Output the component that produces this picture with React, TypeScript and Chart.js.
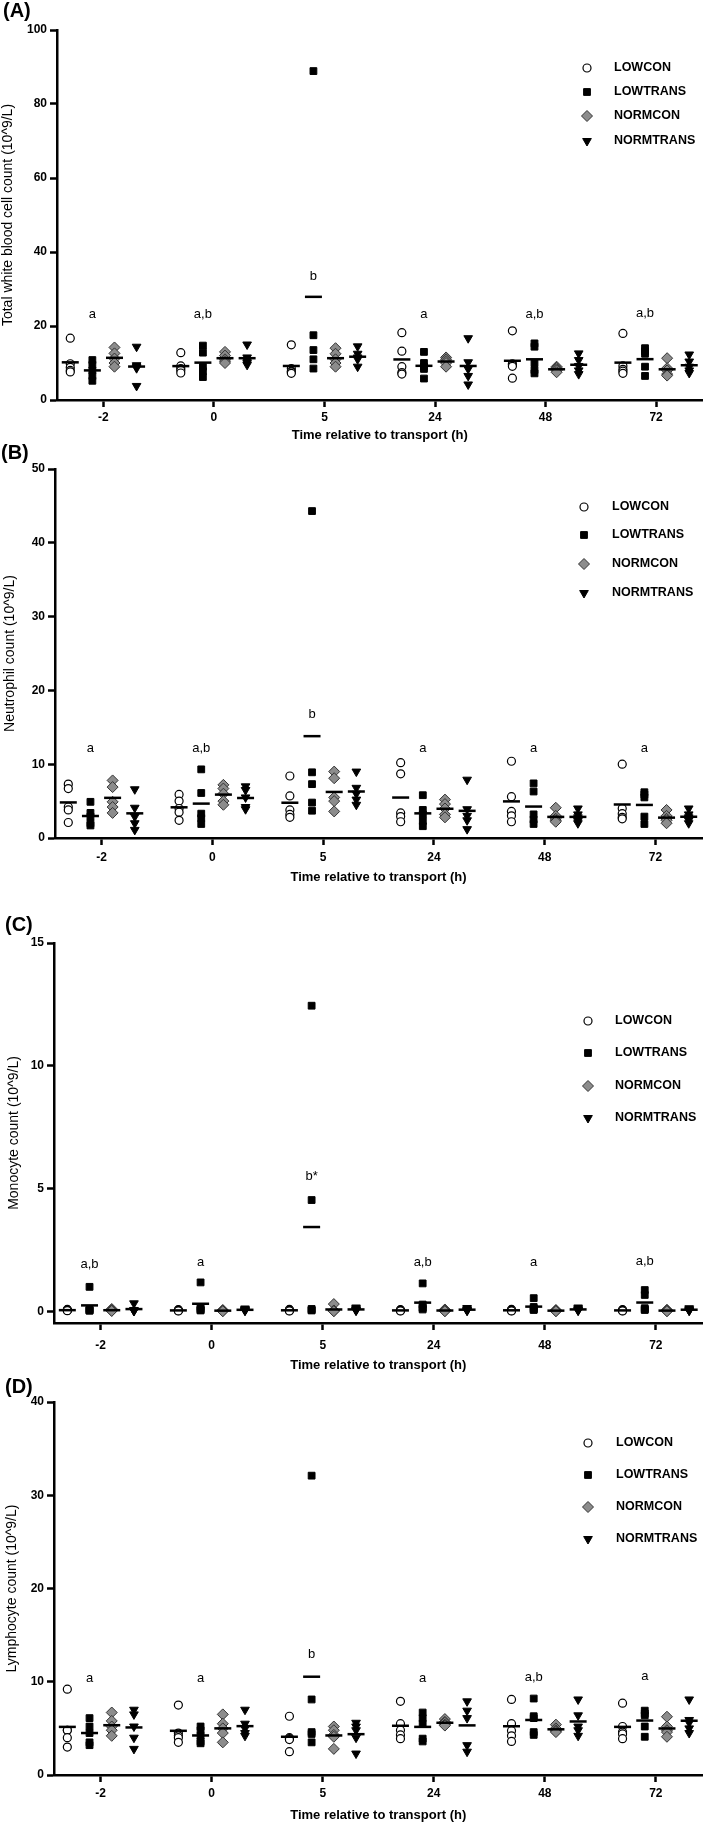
import React, { useEffect, useRef } from 'react';
import { Chart, registerables } from 'chart.js';

Chart.register(...registerables);

// ---------- categories / labels ----------
const timeLabels = ['-2', '0', '5', '24', '48', '72'];
const groupNames = ['LOWCON', 'LOWTRANS', 'NORMCON', 'NORMTRANS'];
const xTitle = 'Time relative to transport (h)';

// ---------- (A) total white blood cell count, 5 animals per time point ----------
const wbcLowcon = [
  [16.7, 9.8, 8.8, 8.0, 7.6], [12.8, 9.2, 8.5, 8.0, 7.3], [14.9, 8.5, 7.8, 7.6, 7.2],
  [18.2, 13.2, 9.0, 7.4, 7.0], [18.7, 9.8, 9.5, 9.1, 5.9], [18.0, 9.2, 8.3, 7.8, 7.2],
];
const wbcLowtrans = [
  [10.8, 9.5, 8.0, 6.5, 5.2], [14.7, 12.8, 9.0, 7.8, 6.2], [88.9, 17.5, 13.5, 11.0, 8.5],
  [13.0, 10.0, 9.0, 8.4, 5.8], [15.3, 14.4, 10.0, 8.1, 7.2], [14.0, 13.2, 12.5, 9.0, 6.5],
];
const wbcNormcon = [
  [14.2, 12.6, 11.2, 10.0, 9.0], [13.0, 12.0, 11.0, 10.5, 10.0], [14.0, 12.5, 11.0, 10.0, 9.0],
  [11.5, 11.0, 10.5, 10.0, 9.0], [9.0, 8.7, 8.3, 8.0, 7.5], [11.3, 8.6, 8.0, 7.0, 6.6],
];
const wbcNormtrans = [
  [14.4, 9.4, 9.0, 8.6, 3.8], [15.0, 11.5, 10.5, 10.0, 9.5], [14.5, 12.5, 11.5, 11.0, 9.0],
  [16.7, 10.2, 8.4, 6.5, 4.2], [12.6, 10.8, 9.2, 8.0, 7.0], [12.3, 10.4, 9.0, 8.0, 7.3],
];
const wbcLetters = ['a', 'a,b', 'b', 'a', 'a,b', 'a,b'];
const wbcLetterY = [23, 23, 33.5, 23, 23, 23.3];
const wbcYTicks = [0, 20, 40, 60, 80, 100];

// ---------- (B) neutrophil count ----------
const neuLowcon = [
  [7.3, 6.7, 4.2, 3.8, 2.1], [5.9, 5.0, 4.0, 3.5, 2.4], [8.4, 5.7, 3.8, 3.2, 2.8],
  [10.2, 8.7, 3.4, 2.9, 2.2], [10.4, 5.6, 3.6, 3.0, 2.2], [10.0, 4.0, 3.3, 2.8, 2.6],
];
const neuLowtrans = [
  [4.9, 3.4, 2.9, 2.0, 1.7], [9.3, 6.1, 3.3, 2.7, 1.9], [44.3, 8.9, 7.3, 4.8, 3.7],
  [5.8, 3.8, 3.2, 2.3, 1.6], [7.4, 6.3, 3.2, 2.5, 1.9], [6.2, 5.9, 5.5, 2.9, 1.9],
];
const neuNormcon = [
  [7.8, 6.9, 4.9, 4.2, 3.4], [7.2, 6.7, 6.0, 5.0, 4.5], [9.0, 8.1, 5.5, 5.0, 3.6],
  [5.2, 4.6, 4.0, 3.2, 2.8], [4.1, 3.0, 2.6, 2.4, 2.2], [3.8, 3.0, 2.6, 2.4, 2.0],
];
const neuNormtrans = [
  [6.6, 4.1, 2.9, 2.0, 1.1], [7.0, 6.5, 5.5, 4.2, 3.9], [9.0, 6.8, 6.0, 5.2, 4.5],
  [7.9, 3.9, 3.0, 2.4, 1.2], [4.0, 3.2, 2.8, 2.3, 2.0], [4.0, 3.2, 2.8, 2.4, 2.0],
];
const neuLetters = ['a', 'a,b', 'b', 'a', 'a', 'a'];
const neuLetterY = [12.2, 12.2, 16.7, 12.2, 12.2, 12.2];
const neuYTicks = [0, 10, 20, 30, 40, 50];

// ---------- (C) monocyte count ----------
const monLowcon = [
  [0.10, 0.08, 0.07, 0.06, 0.05], [0.09, 0.07, 0.06, 0.05, 0.04], [0.10, 0.08, 0.06, 0.05, 0.04],
  [0.09, 0.07, 0.06, 0.05, 0.04], [0.10, 0.08, 0.06, 0.05, 0.04], [0.09, 0.07, 0.06, 0.05, 0.04],
];
const monLowtrans = [
  [1.02, 0.12, 0.08, 0.06, 0.05], [1.20, 0.20, 0.12, 0.08, 0.06], [12.45, 4.55, 0.12, 0.08, 0.06],
  [1.16, 0.30, 0.18, 0.15, 0.10], [0.56, 0.20, 0.14, 0.10, 0.08], [0.89, 0.69, 0.15, 0.10, 0.08],
];
const monNormcon = [
  [0.12, 0.08, 0.06, 0.05, 0.04], [0.08, 0.06, 0.05, 0.04, 0.03], [0.32, 0.06, 0.05, 0.04, 0.03],
  [0.10, 0.07, 0.05, 0.04, 0.03], [0.08, 0.06, 0.05, 0.04, 0.03], [0.09, 0.06, 0.05, 0.04, 0.03],
];
const monNormtrans = [
  [0.35, 0.08, 0.06, 0.05, 0.04], [0.14, 0.10, 0.08, 0.06, 0.05], [0.18, 0.12, 0.09, 0.07, 0.05],
  [0.16, 0.11, 0.08, 0.06, 0.05], [0.18, 0.12, 0.09, 0.07, 0.05], [0.15, 0.11, 0.08, 0.06, 0.05],
];
const monLetters = ['a,b', 'a', 'b*', 'a,b', 'a', 'a,b'];
const monLetterY = [1.95, 2.0, 5.5, 2.0, 2.0, 2.05];
const monYTicks = [0, 5, 10, 15];

// ---------- (D) lymphocyte count ----------
const lymLowcon = [
  [9.2, 4.8, 4.8, 4.0, 3.0], [7.5, 4.5, 4.2, 4.0, 3.5], [6.3, 4.0, 3.9, 3.8, 2.5],
  [7.9, 5.5, 4.8, 4.3, 3.9], [8.1, 5.5, 4.75, 4.2, 3.6], [7.7, 5.2, 4.6, 4.4, 3.9],
];
const lymLowtrans = [
  [6.1, 5.2, 4.5, 3.5, 3.2], [5.2, 4.8, 4.2, 3.6, 3.4], [32.1, 8.1, 4.6, 4.4, 3.5],
  [6.7, 6.1, 5.5, 3.9, 3.6], [8.2, 6.3, 6.1, 4.6, 4.3], [6.9, 6.6, 6.4, 5.2, 4.1],
];
const lymNormcon = [
  [6.7, 5.8, 5.2, 4.8, 4.2], [6.5, 5.5, 5.0, 4.5, 3.5], [5.2, 4.8, 4.3, 4.1, 2.8],
  [6.0, 5.7, 5.6, 5.4, 5.3], [5.4, 5.0, 4.8, 4.7, 4.6], [6.25, 5.2, 4.8, 4.6, 4.1],
];
const lymNormtrans = [
  [7.0, 6.5, 5.2, 4.0, 2.8], [7.0, 5.5, 5.0, 4.5, 4.2], [5.6, 5.2, 4.8, 4.0, 2.3],
  [7.9, 6.9, 6.1, 3.2, 2.5], [8.1, 6.4, 5.2, 4.8, 4.2], [8.1, 5.9, 5.6, 5.0, 4.5],
];
const lymLetters = ['a', 'a', 'b', 'a', 'a,b', 'a'];
const lymLetterY = [10.4, 10.4, 12.9, 10.4, 10.5, 10.6];
const lymYTicks = [0, 10, 20, 30, 40];

// ---------- styling / layout ----------
const FONT = '"Liberation Sans", Arial, Helvetica, sans-serif';
const seriesOffsets = [-0.3, -0.1, 0.1, 0.3];
const seriesStyles = [
  { pointStyle: 'circle', radius: 4, bg: '#ffffff', border: '#000000', bw: 1.2, rotation: 0 },
  { pointStyle: 'rect', radius: 4.8, bg: '#000000', border: '#000000', bw: 1, rotation: 0 },
  { pointStyle: 'rectRot', radius: 5.5, bg: '#8c8c8c', border: '#333333', bw: 1, rotation: 0 },
  { pointStyle: 'triangle', radius: 5, bg: '#000000', border: '#000000', bw: 1, rotation: 180 },
];

type PanelDef = {
  key: string;
  label: string;
  yTitle: string;
  series: number[][][];
  letters: string[];
  letterY: number[];
  yTicks: number[];
  yMin: number;
  yMax: number;
  lay: {
    top: number; height: number; plotLeft: number; plotRight: number; plotTop: number; plotBottom: number;
    labelX: number; labelY: number; yTitleX: number; tickPad: number; titleY: number;
    legMarkX: number; legTextX: number; legRows: number[];
  };
};

const panels: PanelDef[] = [
  {
    key: 'A', label: '(A)', yTitle: 'Total white blood cell count (10^9/L)',
    series: [wbcLowcon, wbcLowtrans, wbcNormcon, wbcNormtrans],
    letters: wbcLetters, letterY: wbcLetterY, yTicks: wbcYTicks, yMin: 0, yMax: 100,
    lay: { top: 0, height: 444, plotLeft: 57, plotRight: 706, plotTop: 30, plotBottom: 400,
      labelX: 3, labelY: 11, yTitleX: 8.5, tickPad: 3.5, titleY: 435,
      legMarkX: 587, legTextX: 614, legRows: [68, 92, 116, 141] },
  },
  {
    key: 'B', label: '(B)', yTitle: 'Neutrophil count (10^9/L)',
    series: [neuLowcon, neuLowtrans, neuNormcon, neuNormtrans],
    letters: neuLetters, letterY: neuLetterY, yTicks: neuYTicks, yMin: 0, yMax: 50,
    lay: { top: 442, height: 444, plotLeft: 55, plotRight: 702, plotTop: 469, plotBottom: 838,
      labelX: 1, labelY: 453, yTitleX: 10, tickPad: 5.5, titleY: 877,
      legMarkX: 584, legTextX: 612, legRows: [507, 535, 564, 593] },
  },
  {
    key: 'C', label: '(C)', yTitle: 'Monocyte count (10^9/L)',
    series: [monLowcon, monLowtrans, monNormcon, monNormtrans],
    letters: monLetters, letterY: monLetterY, yTicks: monYTicks, yMin: -0.45, yMax: 15,
    lay: { top: 914, height: 460, plotLeft: 54, plotRight: 705, plotTop: 943, plotBottom: 1323,
      labelX: 5, labelY: 925, yTitleX: 14, tickPad: 8, titleY: 1365,
      legMarkX: 588, legTextX: 615, legRows: [1021, 1053, 1086, 1118] },
  },
  {
    key: 'D', label: '(D)', yTitle: 'Lymphocyte count (10^9/L)',
    series: [lymLowcon, lymLowtrans, lymNormcon, lymNormtrans],
    letters: lymLetters, letterY: lymLetterY, yTicks: lymYTicks, yMin: 0, yMax: 40,
    lay: { top: 1376, height: 446, plotLeft: 54, plotRight: 707, plotTop: 1402, plotBottom: 1775,
      labelX: 5, labelY: 1387, yTitleX: 12, tickPad: 4.5, titleY: 1815,
      legMarkX: 588, legTextX: 616, legRows: [1443, 1475, 1507, 1539] },
  },
];

function drawMarker(ctx: CanvasRenderingContext2D, s: number, cx: number, cy: number) {
  const st = seriesStyles[s];
  const r = st.radius;
  ctx.beginPath();
  if (st.pointStyle === 'circle') {
    ctx.arc(cx, cy, r, 0, Math.PI * 2);
  } else if (st.pointStyle === 'rect') {
    const h = r * Math.SQRT1_2;
    ctx.rect(cx - h, cy - h, 2 * h, 2 * h);
  } else if (st.pointStyle === 'rectRot') {
    ctx.moveTo(cx - r, cy);
    ctx.lineTo(cx, cy - r);
    ctx.lineTo(cx + r, cy);
    ctx.lineTo(cx, cy + r);
    ctx.closePath();
  } else {
    const w = r * Math.sin(Math.PI / 3);
    ctx.moveTo(cx, cy + r);
    ctx.lineTo(cx - w, cy - r / 2);
    ctx.lineTo(cx + w, cy - r / 2);
    ctx.closePath();
  }
  ctx.fillStyle = st.bg;
  ctx.fill();
  ctx.lineWidth = st.bw;
  ctx.strokeStyle = st.border;
  ctx.stroke();
}

function makeOverlay(p: PanelDef) {
  return {
    id: 'overlay' + p.key,
    afterDatasetsDraw(chart: any) {
      const { ctx, scales } = chart;
      const x = scales.x;
      const y = scales.y;
      const top = p.lay.top;
      ctx.save();
      // mean lines
      ctx.strokeStyle = '#000';
      ctx.lineWidth = 2.5;
      p.series.forEach((ser, s) => {
        ser.forEach((vals, i) => {
          const m = vals.reduce((a, b) => a + b, 0) / vals.length;
          const px = x.getPixelForValue(i + seriesOffsets[s]);
          const py = y.getPixelForValue(m);
          ctx.beginPath();
          ctx.moveTo(px - 8.5, py);
          ctx.lineTo(px + 8.5, py);
          ctx.stroke();
        });
      });
      // significance letters
      ctx.fillStyle = '#000';
      ctx.font = `13px ${FONT}`;
      ctx.textAlign = 'center';
      ctx.textBaseline = 'middle';
      p.letters.forEach((t, i) => {
        ctx.fillText(t, x.getPixelForValue(i + seriesOffsets[1]), y.getPixelForValue(p.letterY[i]));
      });
      // panel label
      ctx.font = `bold 20px ${FONT}`;
      ctx.textAlign = 'left';
      ctx.fillText(p.label, p.lay.labelX, p.lay.labelY - top);
      // legend
      ctx.font = `bold 12.5px ${FONT}`;
      groupNames.forEach((name, s) => {
        const cy = p.lay.legRows[s] - top;
        drawMarker(ctx, s, p.lay.legMarkX, cy);
        ctx.fillStyle = '#000';
        ctx.fillText(name, p.lay.legTextX, cy);
      });
      ctx.restore();
    },
  };
}

function Panel({ p }: { p: PanelDef }) {
  const ref = useRef<HTMLCanvasElement | null>(null);
  useEffect(() => {
    const canvas = ref.current;
    if (!canvas) return;
    const L = p.lay;
    const xAxisHeight = L.top + L.height - L.plotBottom;
    const titleBottomPad = L.top + L.height - L.titleY - 6.5;
    const datasets = p.series.map((ser, s) => {
      const st = seriesStyles[s];
      return {
        label: groupNames[s],
        data: ser.flatMap((vals, i) => vals.map((v) => ({ x: i + seriesOffsets[s], y: v }))),
        pointStyle: st.pointStyle,
        pointRadius: st.radius,
        pointRotation: st.rotation,
        backgroundColor: st.bg,
        borderColor: st.border,
        borderWidth: st.bw,
        showLine: false,
      };
    });
    const chart = new Chart(canvas, {
      type: 'scatter',
      data: { datasets } as any,
      options: {
        responsive: false,
        animation: false,
        devicePixelRatio: 1,
        layout: { padding: { top: L.plotTop - L.top, left: 0, right: 709 - L.plotRight, bottom: 0 } },
        plugins: { legend: { display: false }, tooltip: { enabled: false } },
        scales: {
          x: {
            type: 'linear',
            min: -0.42,
            max: 5.42,
            afterBuildTicks: (scale: any) => {
              scale.ticks = timeLabels.map((_, i) => ({ value: i }));
            },
            afterFit: (scale: any) => {
              scale.height = xAxisHeight;
            },
            ticks: {
              callback: (v: any) => timeLabels[Math.round(Number(v))] ?? '',
              font: { family: FONT, size: 12, weight: 'bold' },
              color: '#000',
              padding: L.tickPad,
              maxRotation: 0,
              autoSkip: false,
            },
            grid: { drawOnChartArea: false, drawTicks: true, tickLength: 7, tickWidth: 2.5, tickColor: '#000' },
            border: { display: true, color: '#000', width: 2.5 },
            title: {
              display: true,
              text: xTitle,
              color: '#000',
              font: { family: FONT, size: 13, weight: 'bold', lineHeight: 1 },
              padding: { top: 0, bottom: titleBottomPad },
            },
          },
          y: {
            type: 'linear',
            min: p.yMin,
            max: p.yMax,
            afterBuildTicks: (scale: any) => {
              scale.ticks = p.yTicks.map((v) => ({ value: v }));
            },
            afterFit: (scale: any) => {
              scale.width = L.plotLeft;
            },
            ticks: {
              callback: (v: any) => String(v),
              font: { family: FONT, size: 12, weight: 'bold' },
              color: '#000',
              padding: 3,
            },
            grid: { drawOnChartArea: false, drawTicks: true, tickLength: 7, tickWidth: 2.5, tickColor: '#000' },
            border: { display: true, color: '#000', width: 2.5 },
            title: {
              display: true,
              text: p.yTitle,
              color: '#000',
              font: { family: FONT, size: 14, weight: 'normal', lineHeight: 1 },
              padding: { top: L.yTitleX - 7, bottom: 0 },
            },
          },
        },
      } as any,
      plugins: [makeOverlay(p)],
    });
    return () => chart.destroy();
  }, [p]);
  return (
    <canvas
      ref={ref}
      width={709}
      height={p.lay.height}
      style={{ position: 'absolute', left: 0, top: p.lay.top, width: 709, height: p.lay.height }}
    />
  );
}

export default function App() {
  return (
    <div style={{ position: 'absolute', left: 0, top: 0, width: 709, height: 1822, background: '#ffffff', overflow: 'hidden' }}>
      {panels.map((p) => (
        <Panel key={p.key} p={p} />
      ))}
    </div>
  );
}
